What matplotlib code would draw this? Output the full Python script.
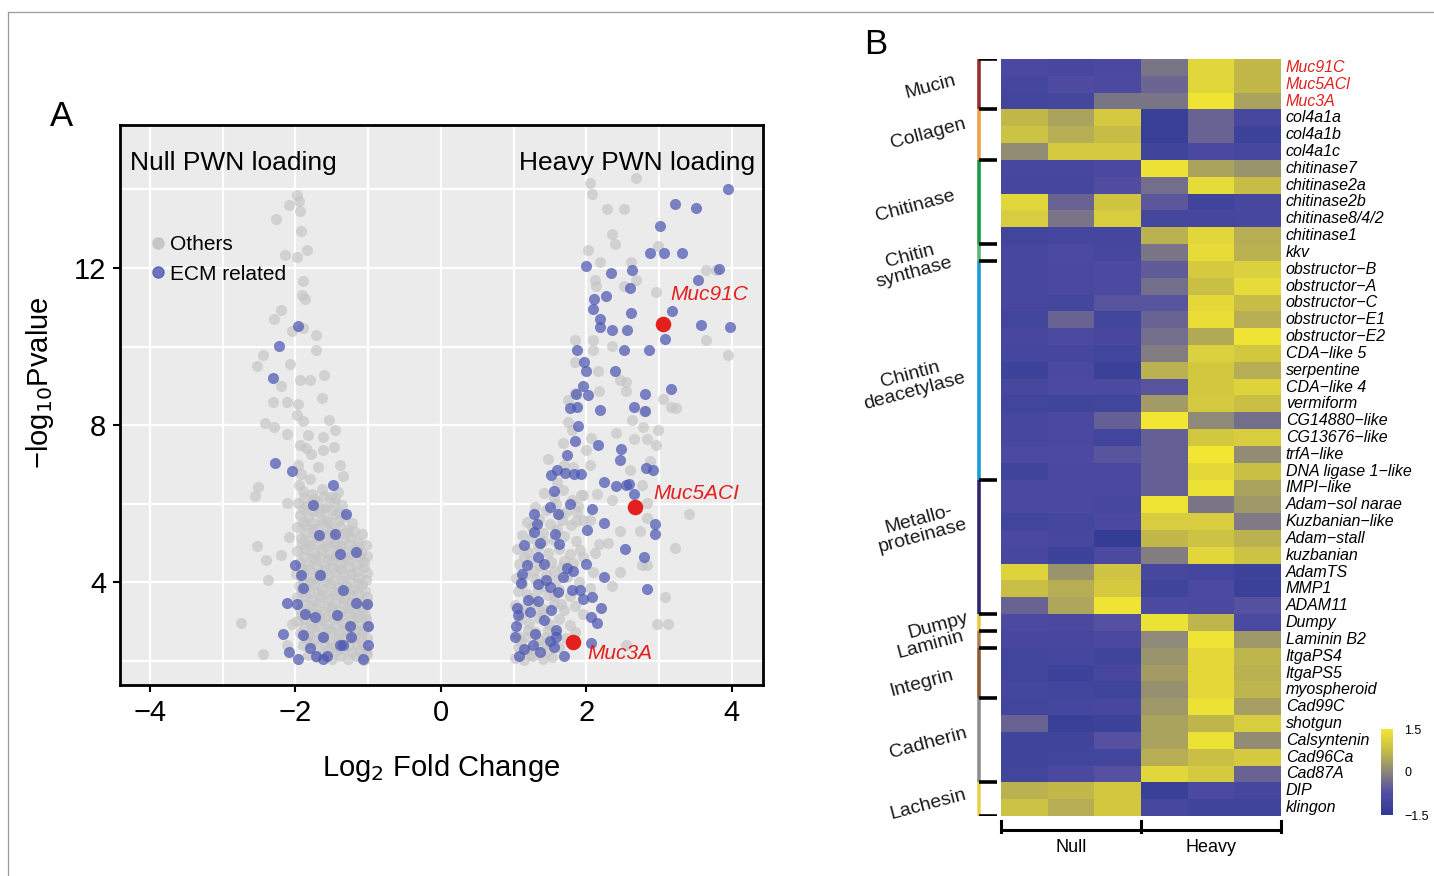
import numpy as np
import matplotlib
matplotlib.use('Agg')
import matplotlib.pyplot as plt
from matplotlib.colors import LinearSegmentedColormap
from matplotlib.lines import Line2D

plt.rcParams['font.family'] = ['Liberation Sans', 'DejaVu Sans']

# ---------------- panel A: volcano data (log2FC, -log10 p) ----------------
null_others = [
    (-1.97, 13.86), (-2.09, 13.61), (-1.95, 13.71), (-1.94, 13.46), (-2.27, 13.24), (-1.92, 12.94),
    (-2.14, 12.32), (-1.98, 12.29), (-1.84, 12.45), (-1.89, 11.67), (-1.91, 11.31), (-1.86, 11.22),
    (-2.20, 10.94), (-2.29, 10.71), (-1.90, 10.48), (-2.04, 10.41), (-1.71, 10.29), (-1.72, 9.92),
    (-2.44, 9.80), (-2.52, 9.50), (-2.07, 9.55), (-1.93, 9.15), (-1.80, 9.16), (-1.60, 9.28),
    (-2.19, 9.00), (-2.30, 8.60), (-2.12, 8.58), (-1.96, 8.55), (-1.63, 8.70), (-1.98, 8.27),
    (-1.89, 8.12), (-1.53, 8.14), (-2.41, 8.05), (-2.29, 7.96), (-2.12, 7.77), (-1.45, 7.87),
    (-1.82, 7.75), (-1.62, 7.70), (-1.94, 7.49), (-1.85, 7.42), (-1.62, 7.38), (-1.47, 7.44),
    (-1.79, 7.28), (-1.96, 7.00), (-1.69, 6.94), (-1.39, 7.00), (-1.92, 6.77), (-1.34, 6.70),
    (-2.51, 6.42), (-2.55, 6.20), (-2.12, 6.03), (-1.95, 6.49), (-1.80, 6.63),
    (-2.53, 4.92), (-2.40, 4.58), (-2.20, 4.69), (-2.08, 5.15), (-2.37, 4.06), (-2.74, 2.97),
    (-2.44, 2.17), (-2.05, 2.93), (-2.12, 2.42),
    (-1.90, 6.32), (-1.77, 6.25), (-1.63, 6.38), (-1.52, 6.18), (-1.41, 6.30),
    (-1.96, 6.02), (-1.84, 5.95), (-1.70, 6.08), (-1.58, 5.92), (-1.47, 6.05), (-1.36, 5.98),
    (-1.93, 5.72), (-1.81, 5.66), (-1.67, 5.78), (-1.56, 5.61), (-1.44, 5.74), (-1.31, 5.68),
    (-1.98, 5.41), (-1.86, 5.46), (-1.74, 5.35), (-1.63, 5.48), (-1.51, 5.38), (-1.39, 5.44), (-1.27, 5.33),
    (-1.92, 5.12), (-1.81, 5.05), (-1.69, 5.16), (-1.57, 5.02), (-1.47, 5.13), (-1.35, 5.07), (-1.24, 5.15),
    (-1.14, 5.04), (-1.97, 4.81), (-1.87, 4.86), (-1.76, 4.75), (-1.65, 4.83), (-1.54, 4.72), (-1.43, 4.88),
    (-1.31, 4.78), (-1.19, 4.84), (-1.09, 4.74), (-1.94, 4.52), (-1.83, 4.45), (-1.72, 4.56), (-1.61, 4.43),
    (-1.50, 4.55), (-1.39, 4.47), (-1.27, 4.58), (-1.16, 4.44), (-1.05, 4.53), (-1.99, 4.21), (-1.89, 4.26),
    (-1.78, 4.15), (-1.67, 4.24), (-1.56, 4.13), (-1.45, 4.27), (-1.34, 4.18), (-1.23, 4.22), (-1.12, 4.12),
    (-1.02, 4.25), (-1.95, 3.92), (-1.85, 3.86), (-1.74, 3.95), (-1.63, 3.84), (-1.52, 3.97), (-1.41, 3.88),
    (-1.30, 3.93), (-1.19, 3.83), (-1.08, 3.96), (-1.97, 3.62), (-1.87, 3.66), (-1.77, 3.55), (-1.66, 3.64),
    (-1.55, 3.57), (-1.44, 3.68), (-1.33, 3.58), (-1.22, 3.65), (-1.11, 3.54), (-1.02, 3.63), (-1.93, 3.32),
    (-1.83, 3.26), (-1.72, 3.35), (-1.61, 3.24), (-1.50, 3.37), (-1.39, 3.28), (-1.28, 3.34), (-1.17, 3.23),
    (-1.06, 3.36), (-1.98, 3.02), (-1.88, 3.07), (-1.78, 2.96), (-1.68, 3.05), (-1.57, 2.95), (-1.46, 3.08),
    (-1.35, 2.98), (-1.24, 3.04), (-1.13, 2.94), (-1.03, 3.06), (-1.94, 2.72), (-1.84, 2.66), (-1.73, 2.75),
    (-1.62, 2.64), (-1.51, 2.77), (-1.40, 2.68), (-1.29, 2.73), (-1.18, 2.63), (-1.07, 2.76), (-1.89, 2.42),
    (-1.79, 2.46), (-1.69, 2.36), (-1.59, 2.44), (-1.48, 2.35), (-1.37, 2.47), (-1.26, 2.38), (-1.15, 2.43),
    (-1.04, 2.34), (-1.83, 2.15), (-1.72, 2.09), (-1.61, 2.17), (-1.50, 2.06), (-1.39, 2.14), (-1.28, 2.05),
    (-1.17, 2.12), (-1.06, 2.03), (-1.01, 2.18),
    (-1.88, 6.15), (-1.74, 6.12), (-1.60, 6.20), (-1.46, 6.14), (-1.90, 5.86), (-1.76, 5.82), (-1.62, 5.88),
    (-1.50, 5.84), (-1.40, 5.80), (-1.89, 5.55), (-1.77, 5.52), (-1.64, 5.60), (-1.53, 5.54), (-1.40, 5.58),
    (-1.22, 5.50), (-1.87, 5.26), (-1.75, 5.28), (-1.62, 5.24), (-1.52, 5.29), (-1.41, 5.22), (-1.30, 5.26),
    (-1.19, 5.30), (-1.08, 5.22), (-1.91, 4.97), (-1.80, 4.94), (-1.69, 4.99), (-1.58, 4.92), (-1.47, 4.98),
    (-1.37, 4.93), (-1.26, 4.97), (-1.14, 4.90), (-1.03, 4.96), (-1.88, 4.66), (-1.77, 4.62), (-1.66, 4.68),
    (-1.55, 4.60), (-1.44, 4.66), (-1.33, 4.63), (-1.22, 4.69), (-1.11, 4.61), (-1.01, 4.67), (-1.92, 4.36),
    (-1.81, 4.33), (-1.70, 4.39), (-1.59, 4.31), (-1.48, 4.37), (-1.37, 4.34), (-1.26, 4.40), (-1.15, 4.30),
    (-1.05, 4.38), (-1.90, 4.05), (-1.80, 4.02), (-1.69, 4.08), (-1.58, 4.00), (-1.47, 4.06), (-1.36, 4.03),
    (-1.25, 4.09), (-1.14, 3.99), (-1.03, 4.06), (-1.91, 3.76), (-1.80, 3.73), (-1.69, 3.79), (-1.58, 3.71),
    (-1.47, 3.78), (-1.36, 3.74), (-1.25, 3.80), (-1.14, 3.70), (-1.04, 3.77), (-1.89, 3.46), (-1.78, 3.43),
    (-1.67, 3.49), (-1.56, 3.41), (-1.45, 3.48), (-1.34, 3.44), (-1.23, 3.50), (-1.12, 3.40), (-1.01, 3.47),
    (-1.92, 3.17), (-1.81, 3.14), (-1.70, 3.20), (-1.59, 3.12), (-1.48, 3.19), (-1.37, 3.15), (-1.26, 3.21),
    (-1.15, 3.11), (-1.04, 3.18), (-1.88, 2.86), (-1.77, 2.83), (-1.66, 2.89), (-1.55, 2.81), (-1.44, 2.88),
    (-1.33, 2.84), (-1.22, 2.90), (-1.11, 2.80), (-1.02, 2.87), (-1.85, 2.57), (-1.74, 2.54), (-1.63, 2.60),
    (-1.52, 2.52), (-1.41, 2.59), (-1.30, 2.55), (-1.19, 2.61), (-1.08, 2.51), (-1.01, 2.58), (-1.55, 2.28),
    (-1.44, 2.25), (-1.33, 2.30), (-1.22, 2.24), (-1.11, 2.29), (-1.03, 2.22),
]
null_ecm = [
    (-1.96, 10.52), (-2.23, 10.02), (-2.31, 9.21), (-2.28, 7.03), (-2.05, 6.84), (-1.48, 6.49),
    (-1.75, 5.96), (-1.30, 5.75), (-1.67, 5.20), (-1.46, 5.22), (-1.16, 4.78), (-1.38, 4.73),
    (-2.01, 4.44), (-1.92, 4.18), (-1.66, 4.18), (-1.89, 3.85), (-1.34, 3.81), (-1.16, 3.48),
    (-1.02, 3.46), (-2.11, 3.48), (-1.98, 3.44), (-1.86, 3.20), (-1.73, 3.11), (-1.43, 3.16),
    (-1.25, 2.88), (-2.17, 2.70), (-1.89, 2.65), (-1.62, 2.60), (-1.34, 2.42), (-2.09, 2.23),
    (-1.80, 2.32), (-1.57, 2.14), (-1.07, 2.05), (-1.39, 2.42), (-1.00, 2.88), (-1.00, 2.42),
    (-1.71, 2.14), (-1.23, 2.60), (-1.96, 2.05), (-1.62, 2.05),
]
heavy_others = [
    (2.68, 14.28), (2.05, 14.17), (2.08, 13.88), (2.29, 13.49), (2.52, 13.49), (2.35, 12.87),
    (2.39, 12.61), (2.03, 12.45), (2.19, 12.15), (2.61, 12.15), (2.98, 12.57), (2.12, 11.69),
    (2.14, 11.55), (2.68, 11.69), (2.52, 11.55), (2.96, 11.39), (3.65, 11.96), (3.79, 11.94),
    (3.64, 10.16), (3.95, 9.80), (1.85, 10.17), (2.09, 10.16), (2.09, 9.92), (2.35, 10.02),
    (1.84, 9.60), (2.16, 9.37), (2.46, 9.14), (2.55, 9.11), (2.18, 8.86), (2.54, 8.86),
    (1.84, 8.83), (1.75, 8.63), (3.06, 8.67), (3.17, 8.46), (3.24, 8.44), (2.80, 8.35),
    (2.63, 8.14), (2.78, 7.96), (2.99, 7.89), (1.75, 8.07), (1.80, 7.89), (2.41, 7.81),
    (2.65, 7.65), (2.83, 7.65), (2.06, 7.68), (2.96, 7.49), (1.68, 7.56), (2.00, 7.38),
    (1.48, 7.14), (2.05, 7.00), (1.82, 6.94), (2.60, 6.87), (2.88, 7.10), (2.76, 6.49),
    (2.83, 6.03), (1.95, 6.22), (3.41, 5.75), (3.22, 4.87), (2.84, 5.64), (2.47, 5.31),
    (2.74, 5.32), (2.18, 4.97), (2.83, 4.44), (2.77, 4.44), (2.46, 4.27), (3.08, 3.62),
    (2.97, 2.93), (3.12, 2.93), (2.55, 2.42), (2.35, 3.90), (2.09, 4.27), (1.96, 4.64),
    (1.86, 5.57), (1.87, 5.80), (1.64, 5.75),
    (1.42, 6.28), (1.55, 6.15), (1.68, 6.35), (1.80, 6.10), (1.93, 6.22), (1.30, 5.92),
    (1.45, 5.85), (1.58, 6.00), (1.72, 5.80), (1.88, 5.95), (1.18, 5.55), (1.35, 5.62),
    (1.50, 5.48), (1.66, 5.58), (1.79, 5.45), (1.95, 5.60), (1.12, 5.20), (1.26, 5.12),
    (1.41, 5.25), (1.55, 5.08), (1.70, 5.18), (1.86, 5.05), (1.05, 4.85), (1.20, 4.78),
    (1.34, 4.90), (1.48, 4.74), (1.63, 4.86), (1.77, 4.72), (1.92, 4.82), (1.08, 4.48),
    (1.22, 4.55), (1.37, 4.42), (1.51, 4.52), (1.66, 4.40), (1.82, 4.50), (1.03, 4.12),
    (1.16, 4.20), (1.30, 4.08), (1.45, 4.18), (1.59, 4.05), (1.74, 4.15), (1.90, 4.02),
    (1.06, 3.78), (1.19, 3.70), (1.33, 3.82), (1.47, 3.68), (1.62, 3.80), (1.78, 3.66),
    (1.02, 3.42), (1.14, 3.35), (1.28, 3.46), (1.41, 3.32), (1.55, 3.44), (1.70, 3.30),
    (1.85, 3.40), (1.08, 3.05), (1.21, 2.98), (1.35, 3.10), (1.49, 2.95), (1.63, 3.06),
    (1.77, 2.92), (1.03, 2.70), (1.16, 2.62), (1.30, 2.74), (1.44, 2.60), (1.58, 2.72),
    (1.72, 2.58), (1.06, 2.35), (1.19, 2.28), (1.33, 2.40), (1.47, 2.25), (1.62, 2.36),
    (1.02, 2.08), (1.14, 2.02), (1.27, 2.12), (1.40, 2.04), (1.53, 2.10),
    (1.25, 5.40), (1.40, 5.05), (1.60, 5.35), (1.15, 4.65), (1.28, 4.30), (1.55, 4.30),
    (1.70, 4.55), (1.12, 3.95), (1.40, 3.90), (1.25, 3.60), (1.55, 3.65), (1.12, 3.20),
    (1.38, 3.25), (1.65, 3.45), (1.20, 2.80), (1.48, 2.80), (1.10, 2.50), (1.35, 2.55),
    (1.22, 2.15), (1.45, 2.45), (1.85, 2.75), (1.95, 3.20), (2.05, 3.85), (2.12, 4.75),
    (2.30, 5.00), (2.05, 5.60), (2.15, 6.25), (2.35, 6.10), (1.70, 7.00), (1.60, 6.55),
]
heavy_ecm = [
    (3.95, 14.00), (3.22, 13.63), (3.51, 13.54), (3.01, 13.08), (2.88, 12.38), (3.07, 12.38),
    (3.32, 12.38), (1.99, 12.06), (2.34, 11.87), (2.63, 11.94), (3.83, 11.98), (3.54, 11.70),
    (2.60, 11.48), (2.27, 11.30), (2.10, 11.22), (2.09, 10.96), (2.61, 10.85), (3.18, 10.90),
    (2.19, 10.71), (2.19, 10.51), (2.36, 10.43), (2.56, 10.42), (3.58, 10.55), (3.97, 10.51),
    (3.08, 10.20), (1.87, 9.92), (2.52, 9.92), (2.86, 9.91), (1.97, 9.60), (1.99, 9.39),
    (2.39, 9.37), (1.95, 9.00), (2.03, 8.77), (2.81, 8.79), (3.16, 8.93), (1.86, 8.79),
    (1.77, 8.44), (1.87, 8.46), (2.19, 8.39), (2.65, 8.47), (2.81, 8.37), (1.89, 7.98),
    (1.84, 7.59), (2.16, 7.50), (2.48, 7.40), (2.47, 7.12), (1.74, 7.24), (2.82, 6.91),
    (2.92, 6.87), (1.52, 6.73), (1.60, 6.85), (1.71, 6.79), (1.83, 6.77), (1.93, 6.77),
    (2.24, 6.56), (2.41, 6.45), (2.55, 6.49), (2.59, 6.51), (2.66, 6.26), (1.56, 6.33),
    (1.50, 5.91), (1.77, 6.00), (2.08, 5.86), (1.61, 5.75), (1.28, 5.73), (1.32, 5.49),
    (2.01, 5.34), (2.24, 5.52), (2.94, 5.48), (2.94, 5.24), (1.28, 5.29), (1.57, 5.24),
    (1.62, 4.97), (1.36, 5.01), (2.53, 4.85), (2.80, 4.64), (1.34, 4.64), (1.42, 4.46),
    (2.00, 4.46), (1.73, 4.36), (1.82, 4.30), (2.25, 4.13), (1.11, 4.22), (1.10, 3.99),
    (2.83, 3.83), (1.34, 3.95), (1.50, 3.88), (1.61, 3.76), (1.81, 3.81), (1.91, 3.81),
    (1.96, 3.58), (2.08, 3.62), (2.20, 3.34), (1.34, 3.53), (1.06, 3.16), (1.22, 3.25),
    (1.51, 3.30), (2.06, 3.11), (2.15, 2.97), (1.03, 2.88), (1.59, 2.79), (1.59, 2.60),
    (1.02, 2.60), (1.27, 2.42), (1.50, 2.51), (1.69, 2.14), (2.07, 2.46), (1.08, 2.14),
    (1.36, 2.23), (1.15, 4.95), (1.20, 3.55), (1.05, 3.35), (1.42, 3.05), (1.30, 2.68),
    (1.14, 2.30), (1.55, 2.35), (1.45, 4.05), (1.68, 4.15), (1.18, 4.45),
]
mucin_names = ['Muc91C', 'Muc5ACI', 'Muc3A']
mucin_fc = [3.06, 2.67, 1.82]
mucin_p = [10.57, 5.91, 2.49]

# ---------------- panel B: heatmap data ----------------
genes = ['Muc91C', 'Muc5ACl', 'Muc3A', 'col4a1a', 'col4a1b', 'col4a1c', 'chitinase7',
         'chitinase2a', 'chitinase2b', 'chitinase8/4/2', 'chitinase1', 'kkv', 'obstructor\u2212B',
         'obstructor\u2212A', 'obstructor\u2212C', 'obstructor\u2212E1', 'obstructor\u2212E2',
         'CDA\u2212like 5', 'serpentine', 'CDA\u2212like 4', 'vermiform', 'CG14880\u2212like',
         'CG13676\u2212like', 'trfA\u2212like', 'DNA ligase 1\u2212like', 'IMPI\u2212like',
         'Adam\u2212sol narae', 'Kuzbanian\u2212like', 'Adam\u2212stall', 'kuzbanian', 'AdamTS',
         'MMP1', 'ADAM11', 'Dumpy', 'Laminin B2', 'ItgaPS4', 'ItgaPS5', 'myospheroid', 'Cad99C',
         'shotgun', 'Calsyntenin', 'Cad96Ca', 'Cad87A', 'DIP', 'klingon']
red_genes = 3
zscores = [
    [-0.90, -0.95, -0.90, -0.20, 1.20, 0.70],
    [-1.00, -0.80, -0.85, -0.40, 1.20, 0.70],
    [-1.05, -1.00, -0.20, -0.20, 1.45, 0.40],
    [0.70, 0.40, 1.00, -1.30, -0.45, -0.95],
    [0.85, 0.55, 0.75, -1.30, -0.45, -1.15],
    [0.10, 1.00, 1.00, -1.10, -0.90, -0.95],
    [-0.95, -0.95, -0.90, 1.40, 0.40, 0.20],
    [-1.00, -1.00, -0.75, -0.30, 1.30, 0.75],
    [1.20, -0.45, 0.90, -0.60, -1.10, -0.95],
    [1.05, -0.20, 1.05, -1.00, -1.00, -0.95],
    [-1.05, -1.00, -1.00, 0.60, 1.20, 0.55],
    [-0.95, -0.85, -0.95, -0.20, 1.30, 0.60],
    [-0.95, -0.90, -0.85, -0.55, 1.00, 1.10],
    [-0.95, -0.90, -0.85, -0.30, 0.80, 1.30],
    [-0.95, -1.00, -0.65, -0.65, 1.25, 0.75],
    [-1.05, -0.45, -1.05, -0.45, 1.35, 0.55],
    [-0.95, -0.85, -0.95, -0.30, 0.50, 1.45],
    [-1.00, -1.00, -1.05, -0.10, 1.10, 0.95],
    [-1.15, -0.90, -1.20, 0.60, 0.95, 0.55],
    [-0.95, -0.85, -0.85, -0.65, 0.95, 1.15],
    [-1.05, -1.10, -1.05, 0.30, 1.00, 0.80],
    [-0.95, -0.90, -0.50, 1.50, 0.05, -0.30],
    [-0.95, -0.90, -1.05, -0.50, 0.95, 1.05],
    [-0.85, -0.85, -0.65, -0.50, 1.50, 0.10],
    [-1.10, -0.90, -0.90, -0.50, 1.25, 0.80],
    [-0.90, -0.90, -0.90, -0.50, 1.40, 0.40],
    [-0.90, -0.90, -0.95, 1.45, -0.20, 0.25],
    [-1.05, -1.00, -0.90, 1.05, 1.05, -0.15],
    [-0.90, -0.95, -1.35, 0.70, 0.85, 0.60],
    [-0.95, -1.15, -0.85, -0.10, 1.20, 0.85],
    [1.15, 0.20, 0.90, -0.95, -1.00, -1.15],
    [0.80, 0.55, 1.00, -1.10, -0.85, -1.20],
    [-0.45, 0.45, 1.45, -0.85, -0.90, -0.70],
    [-0.85, -0.90, -0.70, 1.40, 0.65, -0.85],
    [-0.95, -0.95, -0.90, 0.05, 1.45, 0.25],
    [-1.05, -1.00, -1.10, 0.20, 1.25, 0.65],
    [-1.05, -1.15, -0.95, 0.30, 1.25, 0.60],
    [-1.00, -1.05, -1.10, 0.15, 1.25, 0.65],
    [-1.05, -1.00, -0.95, 0.25, 1.40, 0.35],
    [-0.45, -1.25, -1.15, 0.40, 0.65, 1.05],
    [-1.10, -1.10, -0.70, 0.40, 1.40, 0.10],
    [-1.10, -1.05, -1.05, 0.55, 0.80, 1.00],
    [-1.05, -0.90, -0.70, 1.20, 1.00, -0.45],
    [0.60, 0.70, 0.95, -1.25, -0.85, -1.00],
    [0.85, 0.55, 0.95, -0.95, -1.10, -1.10],
]
groups = ['Mucin', 'Collagen', 'Chitinase', 'Chitin\nsynthase', 'Chintin\ndeacetylase',
          'Metallo-\nproteinase', 'Dumpy', 'Laminin', 'Integrin', 'Cadherin', 'Lachesin']
group_sizes = [3, 3, 5, 1, 13, 8, 1, 1, 3, 5, 2]
group_colors = ['#95302E', '#E9A24A', '#1C9A44', '#5CB874', '#1A9BD7', '#2F2670',
                '#E9CC45', '#B27D4E', '#8E5A38', '#8E8E8E', '#EDD04E']
conditions = ['Null', 'Heavy']

# ---------------- figure ----------------
W, H = 1434, 876
fig = plt.figure(figsize=(W / 100, H / 100), dpi=100)


def box(x0, y0, x1, y1):
    return [x0 / W, 1 - y1 / H, (x1 - x0) / W, (y1 - y0) / H]


# thin frame of the page
fig.add_artist(Line2D([8 / W, 1], [1 - 12 / H, 1 - 12 / H], color='#9a9a9a', lw=0.9))
fig.add_artist(Line2D([8 / W, 8 / W], [0, 1 - 12 / H], color='#9a9a9a', lw=0.9))

ax = fig.add_axes(box(120, 125, 763, 685))
ax.set_facecolor('#EBEBEB')
ax.set_xlim(-4.41, 4.43)
ax.set_ylim(1.39, 15.64)
ax.set_xticks([-4, -2, 0, 2, 4])
ax.set_xticks([-3, -1, 1, 3], minor=True)
ax.set_yticks([4, 8, 12])
ax.set_yticks([2, 6, 10, 14], minor=True)
ax.grid(True, which='both', color='white', lw=1.6)
ax.set_axisbelow(True)
ax.tick_params(which='minor', length=0)
ax.tick_params(which='major', length=5, width=1.5, labelsize=21, pad=5)
for s in ax.spines.values():
    s.set_linewidth(2)

gray = '#C6C6C6'
blue = '#4C57B2'
ms = 64
for pts in (null_others, heavy_others):
    a = np.array(pts)
    ax.scatter(a[:, 0], a[:, 1], s=ms, color=gray, alpha=0.7, lw=0, zorder=2)
for pts in (null_ecm, heavy_ecm):
    a = np.array(pts)
    ax.scatter(a[:, 0], a[:, 1], s=ms, color=blue, alpha=0.72, lw=0, zorder=3)
ax.scatter(mucin_fc, mucin_p, s=125, color='#E4201F', lw=0, zorder=4)
label_off = [(0.1, 0.75), (0.25, 0.35), (0.2, -0.3)]
for name, fx, py, off in zip(mucin_names, mucin_fc, mucin_p, label_off):
    ax.text(fx + off[0], py + off[1], name, color='#E4201F', fontsize=15, style='italic',
            va='center', ha='left', zorder=5)

ax.text(0.016, 0.932, 'Null PWN loading', transform=ax.transAxes, fontsize=19, va='center')
ax.text(0.987, 0.932, 'Heavy PWN loading', transform=ax.transAxes, fontsize=19,
        va='center', ha='right')
handles = [Line2D([], [], marker='o', ls='', color=gray, markersize=8, label='Others'),
           Line2D([], [], marker='o', ls='', color=blue, alpha=0.8, markersize=8, label='ECM related')]
ax.legend(handles=handles, loc='center left', bbox_to_anchor=(0.035, 0.76), frameon=False,
          fontsize=15, handlelength=0.5, handletextpad=0.3, labelspacing=0.5, borderpad=0)
ax.set_xlabel('Log$_2$ Fold Change', fontsize=21, labelpad=18)
ax.set_ylabel('\u2212log$_{10}$Pvalue', fontsize=21)
ax.yaxis.set_label_coords(-0.10, 0.54)
fig.text(62 / W, 1 - 117 / H, 'A', fontsize=25, ha='center', va='center')
fig.text(876 / W, 1 - 45 / H, 'B', fontsize=25, ha='center', va='center')

# heatmap
cmap = LinearSegmentedColormap.from_list(
    'bgy', ['#2D3A93', '#514CA2', '#8A857C', '#C6BC45', '#F2E633'])
hax = fig.add_axes(box(1001, 59, 1281, 816))
Z = np.array(zscores)
mesh = hax.pcolormesh(Z, cmap=cmap, vmin=-1.5, vmax=1.5)
hax.set_xlim(0, Z.shape[1])
hax.set_ylim(Z.shape[0], 0)
hax.axis('off')
for i, g in enumerate(genes):
    hax.text(6.1, i + 0.5, g, fontsize=11.5, style='italic', va='center', ha='left',
             family=['Liberation Sans Narrow', 'Liberation Sans'],
             color='#E4201F' if i < red_genes else 'black')

# condition bracket below
nrow = Z.shape[0]
hax.plot([0, 6], [nrow + 0.85, nrow + 0.85], color='black', lw=2.2, clip_on=False,
         solid_capstyle='butt')
for xb in (0, 3, 6):
    hax.plot([xb, xb], [nrow + 0.3, nrow + 0.95], color='black', lw=2.2, clip_on=False)
for k, c in enumerate(conditions):
    hax.text(1.5 + 3 * k, nrow + 1.9, c, fontsize=13, ha='center', va='center')

# group bracket on the left
bax = fig.add_axes(box(850, 59, 1000, 816))
bax.set_xlim(850, 1000)
bax.set_ylim(nrow, 0)
bax.axis('off')
bounds = np.concatenate([[0], np.cumsum(group_sizes)])
label_pos = [(930, 1.66), (928, 4.46), (915, 8.74), (912, 12.2), (912, 19.26), (921, 27.88),
             (938, 33.71), (930, 34.84), (922, 37.1), (928, 40.67), (928, 44.29)]
for k, (g, col) in enumerate(zip(groups, group_colors)):
    bax.plot([979, 979], [bounds[k], bounds[k + 1]], color=col, lw=2.6, solid_capstyle='butt')
    lx, ly = label_pos[k]
    bax.text(lx, ly, g, fontsize=14, rotation=15, ha='center', va='center',
             multialignment='center', linespacing=1.0, color='#1a1a1a')
for b in bounds:
    bax.plot([979, 997], [b, b], color='black', lw=2.6, solid_capstyle='butt')

# colour scale
cax = fig.add_axes(box(1381, 729, 1393, 815))
cb = fig.colorbar(mesh, cax=cax, ticks=[-1.5, 0, 1.5])
cb.outline.set_visible(False)
cb.ax.set_yticklabels(['\u22121.5', '0', '1.5'])
cax.tick_params(length=0, labelsize=9, pad=8)

fig.savefig('out.png', dpi=100)
